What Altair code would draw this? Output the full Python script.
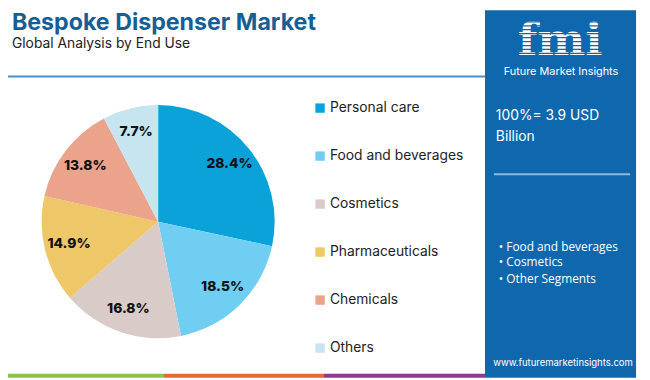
import altair as alt
import pandas as pd

# ---- data ----
categories = ["Personal care", "Food and beverages", "Cosmetics",
              "Pharmaceuticals", "Chemicals", "Others"]
shares = [28.4, 18.5, 16.8, 14.9, 13.8, 7.7]
colors = ["#0BA2DA", "#6FCEF1", "#D9CCC8", "#EEC868", "#EBA38B", "#C7E4F1"]

title_text = "Bespoke Dispenser Market"
subtitle_text = "Global Analysis by End Use"
panel_total = ["100%= 3.9 USD", "Billion"]
panel_bullets = ["• Food and beverages", "• Cosmetics", "• Other Segments"]
site = "www.futuremarketinsights.com"

W, H = 642, 372
OFF = 8  # page margin
PANEL = "#0F68AD"

df = pd.DataFrame({
    "category": categories,
    "value": shares,
    "order": list(range(len(categories))),
    "label": [f"{v:.1f}%" for v in shares],
})

cx, cy = 160 - OFF, 222 - OFF

base = alt.Chart(df).encode(
    theta=alt.Theta("value:Q", stack=True),
    order=alt.Order("order:Q"),
)

arcs = base.mark_arc(outerRadius=118, stroke=None).encode(
    x=alt.value(cx), y=alt.value(cy),
    color=alt.Color(
        "category:N",
        scale=alt.Scale(domain=categories, range=colors),
        sort=categories,
        legend=alt.Legend(
            title=None, orient="none", legendX=317 - OFF, legendY=100 - OFF,
            symbolType="square", symbolSize=90, symbolStrokeWidth=0,
            labelFontSize=14, labelFont="Inter", labelColor="#222222",
            rowPadding=34.6, labelOffset=3, symbolOffset=0,
        ),
    ),
)

labels = base.mark_text(radius=93, font="Inter", fontWeight=800,
                        fontSize=14, color="#111111").encode(
    x=alt.value(cx), y=alt.value(cy), text="label:N",
)


def txt(s, x, y, size, color, weight="normal", font="Inter", align="left",
        baseline="alphabetic"):
    return alt.Chart(pd.DataFrame({"t": [s]})).mark_text(
        fontSize=size, color=color, fontWeight=weight, font=font,
        align=align, baseline=baseline,
    ).encode(text="t:N", x=alt.value(x - OFF), y=alt.value(y - OFF))


def rect(x1, x2, y1, y2, color):
    return alt.Chart(pd.DataFrame({"a": [0]})).mark_rect(color=color).encode(
        x=alt.value(max(x1 - OFF, 0)), x2=alt.value(x2 - OFF),
        y=alt.value(max(y1 - OFF, 0)), y2=alt.value(y2 - OFF),
    )


# stripes across the logo letters
stripes = [rect(508, 628, y, y + 1.3, PANEL) for y in range(19, 55, 4)]

layers = [
    # header
    txt(title_text, 12, 28, 23.5, "#165E96", weight="bold"),
    txt(subtitle_text, 12, 46, 14, "#222222"),
    rect(5, 491, 74, 76, "#4A8FD0"),
    # bottom stripes
    rect(2, 166, 376, 380, "#8BC34A"),
    rect(166, 328, 376, 380, "#E8663A"),
    rect(328, 491, 376, 380, "#8E3A8E"),
    # right panel
    rect(491, 644, 4, 380, PANEL),
    txt("fmi", 567, 53, 46, "#FFFFFF", weight="bold", font="DejaVu Serif",
        align="center"),
    *stripes,
    txt("Future Market Insights", 568, 73, 11, "#FFFFFF", align="center"),
    txt(panel_total[0], 502, 119, 14, "#FFFFFF"),
    txt(panel_total[1], 502, 140, 14, "#FFFFFF"),
    rect(500, 638, 173, 175, "#8DB9E0"),
    txt(panel_bullets[0], 505, 252, 12, "#FFFFFF", font="Open Sans"),
    txt(panel_bullets[1], 505, 267, 12, "#FFFFFF", font="Open Sans"),
    txt(panel_bullets[2], 505, 284, 12, "#FFFFFF", font="Open Sans"),
    txt(site, 570, 368, 9.6, "#FFFFFF", align="center"),
    arcs,
    labels,
]

chart = alt.layer(*layers).properties(
    width=W, height=H, padding=0, autosize=alt.AutoSizeParams(type="none"),
    background="#FFFFFF",
).configure_view(stroke=None)

chart.save("out.html", embed_options={"renderer": "svg", "actions": False})
